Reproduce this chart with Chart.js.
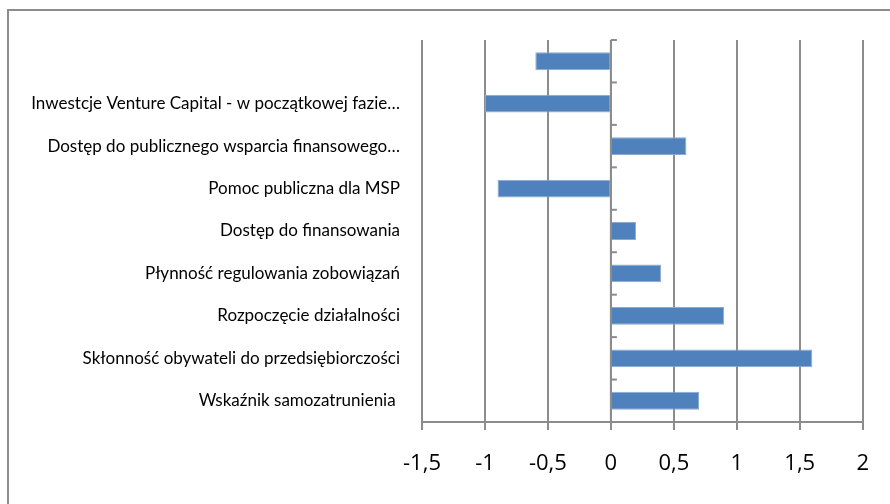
<!DOCTYPE html>
<html lang="pl">
<head>
  <meta charset="UTF-8">
  <title>Wskaźniki</title>
  <script src="https://cdn.jsdelivr.net/npm/chart.js"></script>
  <style>
    body { margin: 0; background: #fff; overflow: hidden; }
    .ramka { position: absolute; left: 7px; top: 9px; width: 900px; height: 520px; border: 2px solid #8c8c8c; }
    .wykres { position: absolute; left: 0; top: 0; width: 890px; height: 504px; }
  </style>
</head>
<body>
  <div class="ramka"></div>
  <div class="wykres"><canvas id="id_grafico" width="890" height="504"></canvas></div>

<script>
// dane z wykresu (od góry do dołu)
const kategorie = [
  '',
  'Inwestcje Venture Capital - w początkowej fazie…',
  'Dostęp do publicznego wsparcia finansowego…',
  'Pomoc publiczna dla MSP',
  'Dostęp do finansowania',
  'Płynność regulowania zobowiązań',
  'Rozpoczęcie działalności',
  'Skłonność obywateli do przedsiębiorczości',
  'Wskaźnik samozatrunienia '
];
const wartosci = [-0.6, -1.0, 0.6, -0.9, 0.2, 0.4, 0.9, 1.6, 0.7];
const osX = { min: -1.5, max: 2, krok: 0.5 };

// kreski na osi kategorii (przy zerze)
const kreskiZero = {
  id: 'kreskiZero',
  afterDatasetsDraw(chart) {
    const { ctx, scales: { x, y } } = chart;
    const x0 = x.getPixelForValue(0);
    ctx.save();
    ctx.strokeStyle = '#8c8c8c';
    ctx.lineWidth = 2;
    for (let i = 0; i <= kategorie.length; i++) {
      const yy = y.getPixelForValue(i - 0.5);
      ctx.beginPath();
      ctx.moveTo(x0, yy);
      ctx.lineTo(x0 + 6, yy);
      ctx.stroke();
    }
    ctx.beginPath();
    ctx.moveTo(x0, y.top);
    ctx.lineTo(x0, y.bottom);
    ctx.stroke();
    ctx.restore();
  }
};

const ctx = document.getElementById('id_grafico').getContext('2d');
new Chart(ctx, {
  type: 'bar',
  data: {
    labels: kategorie,
    datasets: [{
      data: wartosci,
      backgroundColor: '#4f81bd',
      borderColor: '#8aaad4',
      borderWidth: 1,
      barPercentage: 0.42,
      categoryPercentage: 1
    }]
  },
  options: {
    indexAxis: 'y',
    responsive: false,
    animation: false,
    layout: { padding: { top: 40, right: 27, left: 0, bottom: 0 } },
    plugins: { legend: { display: false }, tooltip: { enabled: false } },
    scales: {
      x: {
        min: osX.min,
        max: osX.max,
        afterFit(scale) { scale.height = 82; },
        ticks: {
          stepSize: osX.krok,
          color: '#000',
          padding: 21,
          font: { family: 'Open Sans', size: 22 },
          callback: v => String(v).replace('.', ',')
        },
        grid: { color: '#8c8c8c', lineWidth: 2, tickLength: 8, drawTicks: true },
        border: { display: true, color: '#8c8c8c', width: 2 }
      },
      y: {
        afterFit(scale) { scale.width = 422; },
        ticks: {
          color: '#000',
          padding: 22,
          autoSkip: false,
          font: { family: 'Lato', size: 17 }
        },
        grid: { display: false, drawTicks: false },
        border: { display: false }
      }
    }
  },
  plugins: [kreskiZero]
});
</script>
</body>
</html>
